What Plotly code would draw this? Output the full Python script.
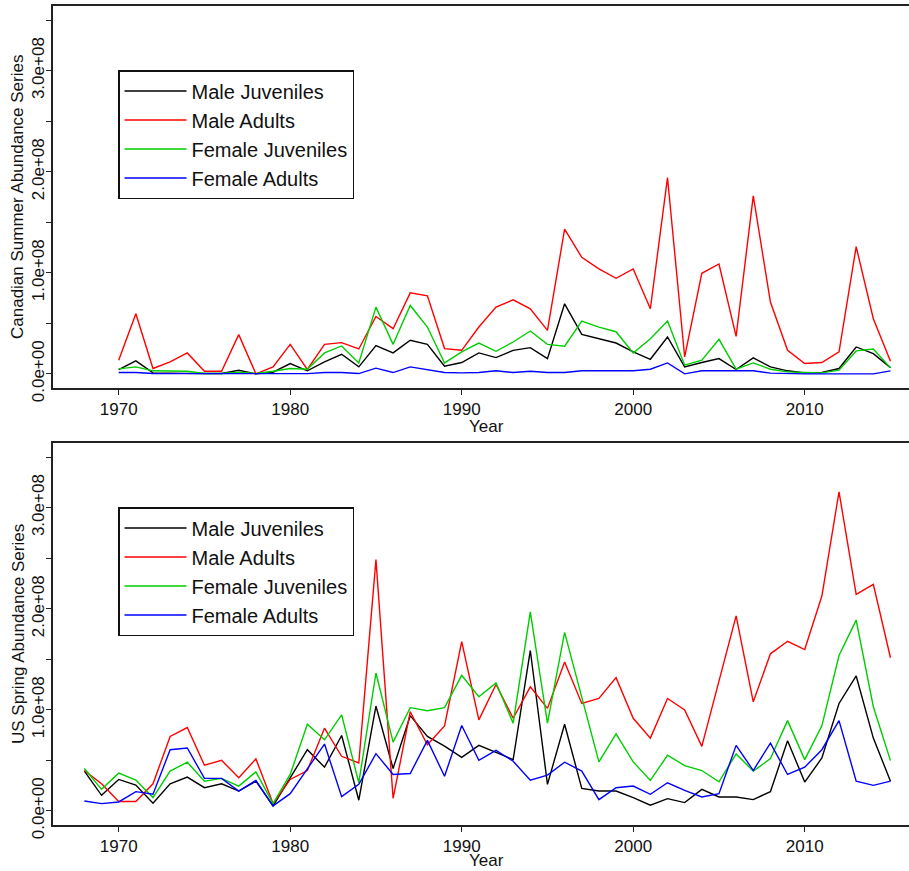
import plotly.graph_objects as go

# ---------------- data ----------------
years_ca = list(range(1970, 2016))
years_us = list(range(1968, 2016))

ca_male_juv = [0.043, 0.128, 0.010, 0.005, 0.005, 0.003, 0.003, 0.036, 0.000, 0.016,
               0.102, 0.030, 0.118, 0.194, 0.069, 0.279, 0.207, 0.332, 0.292, 0.076,
               0.112, 0.207, 0.161, 0.233, 0.259, 0.151, 0.693, 0.391, 0.348, 0.305,
               0.217, 0.144, 0.365, 0.069, 0.112, 0.151, 0.043, 0.158, 0.069, 0.030,
               0.010, 0.013, 0.053, 0.266, 0.200, 0.062]
ca_male_ad = [0.135, 0.594, 0.053, 0.118, 0.207, 0.026, 0.026, 0.388, 0.000, 0.069,
              0.292, 0.043, 0.292, 0.309, 0.246, 0.568, 0.447, 0.801, 0.772, 0.250,
              0.233, 0.463, 0.660, 0.732, 0.644, 0.430, 1.432, 1.153, 1.038, 0.946,
              1.038, 0.644, 1.941, 0.167, 0.995, 1.087, 0.371, 1.761, 0.710, 0.233,
              0.102, 0.112, 0.217, 1.258, 0.545, 0.125]
ca_fem_juv = [0.049, 0.069, 0.030, 0.026, 0.026, 0.003, 0.003, 0.016, 0.003, 0.026,
              0.053, 0.046, 0.207, 0.276, 0.108, 0.660, 0.292, 0.677, 0.463, 0.108,
              0.217, 0.305, 0.223, 0.315, 0.424, 0.292, 0.273, 0.522, 0.463, 0.417,
              0.207, 0.348, 0.522, 0.085, 0.135, 0.342, 0.046, 0.108, 0.046, 0.020,
              0.013, 0.010, 0.036, 0.227, 0.246, 0.059]
ca_fem_ad = [0.013, 0.013, 0.003, 0.002, 0.002, 0.002, 0.002, 0.002, 0.002, 0.002,
             0.002, 0.002, 0.013, 0.013, 0.003, 0.056, 0.013, 0.069, 0.043, 0.013,
             0.010, 0.013, 0.030, 0.013, 0.026, 0.013, 0.013, 0.030, 0.030, 0.030,
             0.030, 0.046, 0.108, 0.000, 0.030, 0.030, 0.030, 0.030, 0.007, 0.000,
             0.000, 0.000, 0.000, 0.000, 0.000, 0.030]

us_male_juv = [0.393, 0.154, 0.311, 0.255, 0.075, 0.268, 0.334, 0.229, 0.268, 0.196,
               0.294, 0.049, 0.327, 0.605, 0.432, 0.746, 0.105, 1.037, 0.419, 0.942,
               0.736, 0.640, 0.530, 0.648, 0.579, 0.507, 1.587, 0.262, 0.857, 0.222,
               0.196, 0.196, 0.131, 0.056, 0.121, 0.082, 0.213, 0.137, 0.137, 0.111,
               0.190, 0.694, 0.285, 0.523, 1.063, 1.335, 0.720, 0.294]
us_male_ad = [0.399, 0.268, 0.092, 0.092, 0.268, 0.736, 0.824, 0.451, 0.500, 0.327,
              0.514, 0.072, 0.311, 0.399, 0.818, 0.540, 0.474, 2.486, 0.124, 0.981,
              0.654, 0.841, 1.675, 0.900, 1.250, 0.916, 1.227, 1.014, 1.472, 1.063,
              1.112, 1.318, 0.916, 0.720, 1.112, 0.998, 0.638, 1.276, 1.930, 1.079,
              1.554, 1.678, 1.596, 2.126, 3.157, 2.143, 2.241, 1.515]
us_fem_juv = [0.419, 0.213, 0.373, 0.304, 0.131, 0.393, 0.481, 0.294, 0.321, 0.245,
              0.386, 0.072, 0.360, 0.857, 0.703, 0.949, 0.278, 1.364, 0.680, 1.021,
              0.991, 1.021, 1.341, 1.129, 1.266, 0.867, 1.969, 0.867, 1.766, 1.112,
              0.484, 0.762, 0.484, 0.301, 0.550, 0.448, 0.399, 0.288, 0.563, 0.393,
              0.517, 0.893, 0.507, 0.841, 1.537, 1.887, 1.030, 0.497]
us_fem_ad = [0.098, 0.072, 0.088, 0.190, 0.164, 0.605, 0.622, 0.321, 0.321, 0.196,
             0.301, 0.049, 0.170, 0.419, 0.661, 0.141, 0.262, 0.566, 0.360, 0.370,
             0.697, 0.343, 0.844, 0.500, 0.599, 0.491, 0.304, 0.353, 0.481, 0.393,
             0.111, 0.229, 0.245, 0.164, 0.278, 0.203, 0.137, 0.170, 0.648, 0.399,
             0.671, 0.360, 0.432, 0.605, 0.893, 0.294, 0.252, 0.294]

series_names = ["Male Juveniles", "Male Adults", "Female Juveniles", "Female Adults"]
series_colors = ["#000000", "#FF0000", "#00CD00", "#0000FF"]
scale = 1e8

y_tickvals = [0, 0.5e8, 1e8, 1.5e8, 2e8, 2.5e8, 3e8, 3.5e8]
y_ticktext = ["0.0e+00", "", "1.0e+08", "", "2.0e+08", "", "3.0e+08", ""]
x_tickvals = [1970, 1980, 1990, 2000, 2010]

# ---------------- figure ----------------
FONT = "Liberation Sans, Arial, sans-serif"
fig = go.Figure()

ca = [ca_male_juv, ca_male_ad, ca_fem_juv, ca_fem_ad]
us = [us_male_juv, us_male_ad, us_fem_juv, us_fem_ad]

for name, col, vals in zip(series_names, series_colors, ca):
    fig.add_trace(go.Scatter(x=years_ca, y=[v * scale for v in vals], mode="lines",
                             name=name, line=dict(color=col, width=1.4),
                             xaxis="x", yaxis="y", legend="legend"))
for name, col, vals in zip(series_names, series_colors, us):
    fig.add_trace(go.Scatter(x=years_us, y=[v * scale for v in vals], mode="lines",
                             name=name, line=dict(color=col, width=1.4),
                             xaxis="x2", yaxis="y2", legend="legend2"))

W, H = 909, 871
ML, MR, MT, MB = 53, 0, 6, 46
PH = H - MT - MB
PW = W - ML - MR

def py(p):  # pixel y -> paper
    return (H - MB - p) / PH

def px(p):  # pixel x -> paper
    return (p - ML) / PW

xr = [1966.17, 2016.08]
yr = [-0.14e8, 3.64e8]

axis_common = dict(showgrid=False, zeroline=False, showline=True, linecolor="#222",
                   linewidth=1.8, ticks="outside", ticklen=5, tickwidth=1.3,
                   tickcolor="#222", tickfont=dict(family=FONT, size=17, color="#111"))

fig.update_layout(
    width=W, height=H,
    margin=dict(l=ML, r=MR, t=MT, b=MB),
    plot_bgcolor="white", paper_bgcolor="white",
    font=dict(family=FONT, color="#111"),
    xaxis=dict(domain=[0, 1], anchor="y", range=xr, tickvals=x_tickvals,
               mirror=True, ticklabelstandoff=0, **axis_common),
    yaxis=dict(domain=[py(388), py(6)], anchor="x", range=yr, tickvals=y_tickvals,
               ticktext=y_ticktext, tickangle=-90, ticklabelstandoff=-5, **axis_common),
    xaxis2=dict(domain=[0, 1], anchor="y2", range=xr, tickvals=x_tickvals,
                mirror=True, ticklabelstandoff=0, **axis_common),
    yaxis2=dict(domain=[0, py(443)], anchor="x2", range=yr, tickvals=y_tickvals,
                ticktext=y_ticktext, tickangle=-90, ticklabelstandoff=-5, **axis_common),
    legend=dict(x=px(118), y=py(70), xanchor="left", yanchor="top",
                bordercolor="#111", borderwidth=1.5, bgcolor="white",
                font=dict(family=FONT, size=20, color="#111"),
                itemwidth=62, tracegroupgap=0),
    legend2=dict(x=px(118), y=py(507), xanchor="left", yanchor="top",
                 bordercolor="#111", borderwidth=1.5, bgcolor="white",
                 font=dict(family=FONT, size=20, color="#111"),
                 itemwidth=62, tracegroupgap=0),
    showlegend=True,
)

ann_font = dict(family=FONT, size=17, color="#111")
fig.add_annotation(text="Year", x=px(486), y=py(427), xref="paper", yref="paper",
                   showarrow=False, font=ann_font, xanchor="center", yanchor="middle")
fig.add_annotation(text="Year", x=px(486), y=py(871), xref="paper", yref="paper",
                   showarrow=False, font=ann_font, xanchor="center", yanchor="bottom",
                   borderpad=0)
fig.add_annotation(text="Canadian Summer Abundance Series", x=px(18), y=py(197),
                   xref="paper", yref="paper", showarrow=False, font=ann_font,
                   textangle=-90, xanchor="center", yanchor="middle")
fig.add_annotation(text="US Spring Abundance Series", x=px(18), y=py(634),
                   xref="paper", yref="paper", showarrow=False, font=ann_font,
                   textangle=-90, xanchor="center", yanchor="middle")

fig.write_html("out.html")
